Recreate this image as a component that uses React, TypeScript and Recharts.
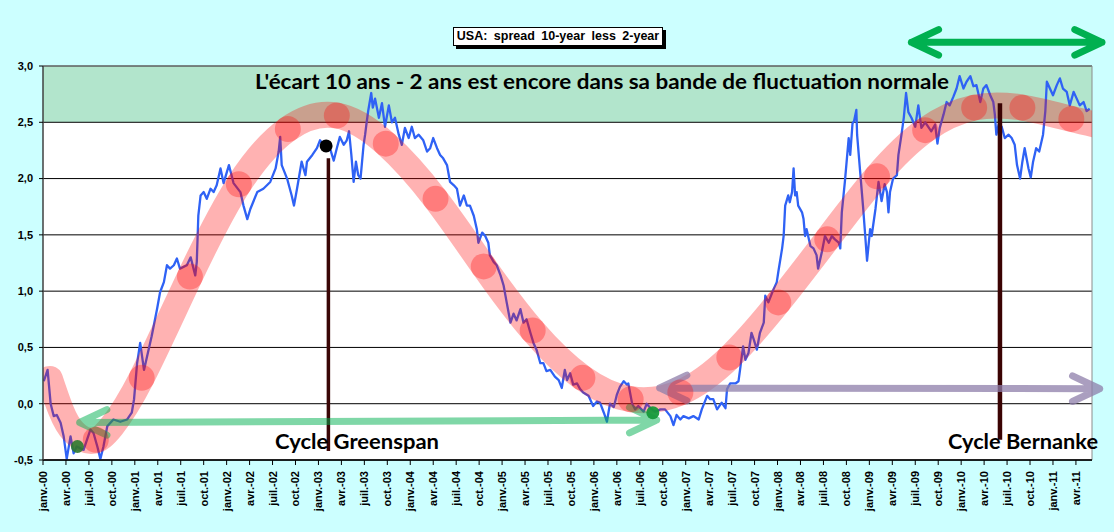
import React from 'react';
import { ComposedChart, Line, Scatter, XAxis, YAxis, CartesianGrid, ReferenceLine } from 'recharts';

// x values are months elapsed since 1 Jan 2000
const spreadMonth = [
  0.1, 0.6, 1.0, 1.4, 1.8, 2.3, 2.7, 3.1, 3.6, 4.0, 4.4, 5.3, 6.2, 6.6, 7.1, 7.5, 7.9, 8.4, 9.2, 10.1,
  11.0, 11.6, 11.9, 12.3, 12.7, 13.2, 13.6, 14.2, 14.9, 15.3, 15.8, 16.2, 16.6, 17.1, 17.5, 17.9, 18.8, 19.3, 19.9, 20.1,
  20.3, 20.6, 21.0, 21.4, 21.9, 22.3, 22.7, 23.2, 23.6, 24.3, 24.9, 25.8, 26.2, 26.7, 27.1, 28.0, 28.8, 29.7, 30.4, 30.8,
  31.0, 31.2, 31.9, 32.5, 32.8, 33.2, 33.8, 34.3, 34.5, 35.2, 35.8, 36.2, 36.9, 37.5, 38.0, 38.4, 38.8,
  39.3, 39.7, 40.0, 40.3, 40.6, 40.9, 41.2, 41.5, 41.7, 41.9, 42.1, 42.3, 42.5, 42.9, 43.1, 43.4, 43.9, 44.3, 44.7, 45.2,
  45.6, 46.0, 46.5, 46.9, 47.3, 47.8, 48.2, 48.6, 49.1, 49.7, 50.2, 50.6, 51.0, 51.5, 51.9, 52.3, 52.8, 53.2, 53.7, 54.1,
  54.5, 55.0, 55.4, 55.8, 56.3, 56.7, 56.9, 57.4, 57.8, 58.2, 58.4, 58.9, 59.3, 59.8, 60.2, 60.6, 61.1, 61.5, 61.9, 62.4,
  62.8, 63.2, 63.7, 64.1, 64.5, 65.0, 65.4, 65.8, 66.3, 66.9, 67.4, 67.8, 68.2, 68.5, 68.9, 69.3, 69.8, 70.2, 70.6, 71.3,
  71.9, 72.4, 72.8, 73.3, 73.7, 74.1, 74.6, 75.0, 75.4, 75.9,
  76.3, 76.5, 77.0, 77.4, 77.8, 78.5, 78.9, 79.4, 80.0, 80.7, 81.3, 82.0, 82.4, 82.8, 83.3, 83.7, 84.4, 85.0, 85.7, 86.1,
  86.8, 87.2, 87.6, 88.1, 88.7, 89.2, 89.4, 89.8, 90.5, 90.9, 91.1, 91.5, 91.8, 92.2, 92.6, 92.9, 93.3, 93.7, 94.2, 94.4,
  94.8, 95.5, 95.9, 96.1, 96.6, 96.8, 97.0, 97.4, 97.6, 97.9, 98.1, 98.3, 98.5, 98.7, 99.2, 99.4, 99.6, 99.8, 100.3, 100.7,
  101.1, 101.3, 101.8, 102.2, 102.7, 103.1, 103.5, 104.0, 104.2, 104.4, 104.8, 105.3, 105.5, 105.8, 106.0, 106.3, 106.4, 106.8, 107.2, 107.4,
  107.7, 108.1, 108.3, 108.8, 109.2,
  109.6, 110.0, 110.3, 110.5, 110.7, 111.1, 111.6, 111.8, 112.2, 112.5, 112.8, 113.1, 113.5, 114.0, 114.4, 114.8, 115.3, 115.7, 116.1, 116.6,
  116.9, 117.2, 117.7, 118.1, 118.5, 119.0, 119.4, 119.8, 120.3, 120.7, 121.2, 121.6, 122.0, 122.5, 122.9, 123.3, 123.8, 124.2, 124.4, 124.6,
  124.9, 125.3, 125.7, 126.2, 126.6, 127.0, 127.3, 127.7, 128.0, 128.3, 128.8, 129.1, 129.4, 129.8, 130.2, 130.5, 130.7, 131.0, 131.2, 131.6,
  132.0, 132.5, 132.9, 133.3, 133.8, 134.2, 134.7, 135.1, 135.5, 136.0, 136.4, 136.8,
];
const spreadValue = [
  0.20, 0.30, 0.00, -0.11, -0.10, -0.17, -0.29, -0.49, -0.29, -0.44, -0.38, -0.41, -0.23, -0.26, -0.38, -0.49, -0.38, -0.20, -0.14, -0.16,
  -0.14, -0.08, 0.04, 0.36, 0.54, 0.30, 0.42, 0.60, 0.84, 0.99, 1.08, 1.23, 1.20, 1.23, 1.29, 1.20, 1.23, 1.30, 1.14, 1.26,
  1.67, 1.85, 1.88, 1.82, 1.91, 1.88, 1.94, 2.09, 1.96, 2.12, 1.96, 1.88, 1.76, 1.64, 1.73, 1.88, 1.91, 1.97, 2.09, 2.24,
  2.37, 2.12, 2.00, 1.85, 1.76, 1.91, 2.15, 2.03, 2.15, 2.21, 2.27, 2.34, 2.28, 2.27, 2.16, 2.27, 2.37,
  2.30, 2.34, 2.42, 2.21, 1.97, 2.15, 2.03, 2.00, 2.15, 2.30, 2.39, 2.50, 2.60, 2.76, 2.63, 2.71, 2.54, 2.67, 2.46, 2.65,
  2.50, 2.54, 2.39, 2.30, 2.45, 2.36, 2.46, 2.36, 2.39, 2.34, 2.24, 2.27, 2.36, 2.27, 2.21, 2.18, 2.12, 1.97, 1.94, 1.91,
  1.76, 1.85, 1.76, 1.76, 1.67, 1.55, 1.43, 1.52, 1.49, 1.43, 1.32, 1.26, 1.23, 1.14, 1.05, 0.90, 0.72, 0.80, 0.74, 0.84,
  0.72, 0.75, 0.63, 0.54, 0.48, 0.36, 0.36, 0.29, 0.30, 0.24, 0.21, 0.14, 0.30, 0.21, 0.27, 0.17, 0.18, 0.13, 0.10, 0.07,
  -0.02, 0.02, 0.01, -0.08, -0.16, 0.00, -0.03, 0.08, 0.15, 0.20,
  0.17, 0.18, 0.00, -0.05, -0.02, -0.07, 0.00, -0.04, -0.07, -0.05, -0.05, -0.11, -0.19, -0.10, -0.14, -0.11, -0.13, -0.11, -0.14, -0.05,
  0.07, 0.04, 0.04, -0.05, 0.01, -0.04, 0.13, 0.18, 0.18, 0.20, 0.30, 0.51, 0.39, 0.45, 0.63, 0.57, 0.48, 0.63, 0.72, 0.96,
  0.90, 1.02, 1.08, 1.17, 1.38, 1.49, 1.76, 1.85, 1.79, 1.88, 2.09, 1.85, 1.88, 1.76, 1.70, 1.64, 1.49, 1.55, 1.40, 1.38,
  1.32, 1.20, 1.35, 1.49, 1.43, 1.49, 1.46, 1.43, 1.38, 1.70, 1.97, 2.36, 2.21, 2.49, 2.51, 2.61, 2.39, 2.06, 1.73, 1.55,
  1.27, 1.55, 1.49, 1.73, 1.97,
  1.80, 1.95, 1.88, 1.70, 1.88, 2.00, 2.03, 2.21, 2.39, 2.54, 2.76, 2.59, 2.54, 2.46, 2.65, 2.45, 2.50, 2.46, 2.42, 2.48,
  2.31, 2.45, 2.57, 2.68, 2.65, 2.73, 2.80, 2.91, 2.80, 2.86, 2.91, 2.82, 2.83, 2.68, 2.80, 2.83, 2.74, 2.68, 2.57, 2.39,
  2.48, 2.46, 2.36, 2.39, 2.36, 2.30, 2.12, 2.00, 2.15, 2.27, 2.09, 2.01, 2.15, 2.27, 2.24, 2.33, 2.39, 2.60, 2.86, 2.80,
  2.74, 2.83, 2.89, 2.80, 2.77, 2.65, 2.77, 2.71, 2.65, 2.68, 2.60, 2.62,
];

// hand-drawn cycle band and its markers
const cycleMonth = [0.9, 2.3, 4.0, 6.5, 9.0, 12.9, 19.2, 25.6, 32.0, 38.4, 44.8, 51.3, 57.6, 64.0, 70.5, 76.8, 83.3, 89.7, 96.1, 102.5, 109.0, 115.3, 121.7, 128.0, 134.4, 139.5];
const cycleValue = [0.22, -0.05, -0.25, -0.33, -0.2, 0.23, 1.13, 1.95, 2.44, 2.56, 2.31, 1.82, 1.22, 0.65, 0.23, 0.04, 0.10, 0.41, 0.90, 1.46, 2.02, 2.43, 2.63, 2.63, 2.53, 2.45];
const markerMonth = [6.9, 12.9, 19.2, 25.6, 32.0, 38.4, 44.8, 51.3, 57.6, 64.0, 70.5, 76.8, 83.3, 89.7, 96.1, 102.5, 109.0, 115.3, 121.7, 128.0, 134.4];
const markerValue = [-0.32, 0.23, 1.13, 1.95, 2.44, 2.56, 2.31, 1.82, 1.22, 0.65, 0.23, 0.04, 0.10, 0.41, 0.90, 1.46, 2.02, 2.43, 2.63, 2.63, 2.53];
const greenDotMonth = [4.5, 79.7];
const greenDotValue = [-0.38, -0.08];
const blackDotMonth = [37.0];
const blackDotValue = [2.29];

// annotations (data coordinates)
const greenspanLine = { month: 37.3, from: -0.42, to: 2.18 };
const bernankeLine = { month: 125.07, from: -0.32, to: 2.67 };
const lightArrow = [{ t: 4.8, v: -0.167 }, { t: 80.2, v: -0.145 }];
const greyArrow = [{ t: 80.6, v: 0.14 }, { t: 138.1, v: 0.133 }];
const topArrow = [{ t: 113.5, v: 3.21 }, { t: 138.4, v: 3.21 }];

const quarterNames = ['janv.', 'avr.', 'juil.', 'oct.'];
const yearNames = ['00', '01', '02', '03', '04', '05', '06', '07', '08', '09', '10', '11'];
const yTicks = [-0.5, 0, 0.5, 1, 1.5, 2, 2.5, 3];
const X_MAX = 137.1;

const xTicks: number[] = [];
const xTickLabel: Record<number, string> = {};
yearNames.forEach((yy, yi) => {
  quarterNames.forEach((q, qi) => {
    const m = yi * 12 + qi * 3;
    if (m <= 135) {
      xTicks.push(m);
      xTickLabel[m] = `${q}-${yy}`;
    }
  });
});

const zip = (ts: number[], vs: number[]) => ts.map((t, i) => ({ t, v: vs[i] }));
const spreadData = zip(spreadMonth, spreadValue);
const cycleData = zip(cycleMonth, cycleValue);
const markerData = zip(markerMonth, markerValue);
const greenDot1 = zip(greenDotMonth.slice(0, 1), greenDotValue.slice(0, 1));
const greenDot2 = zip(greenDotMonth.slice(1), greenDotValue.slice(1));
const blackDotData = zip(blackDotMonth, blackDotValue);

const AXIS_FONT = '"Liberation Sans", Arial, sans-serif';
const TEXT_FONT = 'Lato, "Open Sans", sans-serif';

const XTick = (props: any) => {
  const { x, y, payload } = props;
  return (
    <text
      x={x + 4}
      y={y}
      transform={`rotate(-90, ${x + 4}, ${y})`}
      textAnchor="end"
      fontFamily={AXIS_FONT}
      fontWeight="bold"
      fontSize={11}
      fill="#000"
    >
      {xTickLabel[payload.value]}
    </text>
  );
};

const arrowShape = (p: any) => {
  const { x1, y1, x2, y2, stroke, strokeWidth, strokeOpacity } = p;
  const ang = Math.atan2(y2 - y1, x2 - x1);
  const L = 30;
  const A = 0.44;
  const barb = (x: number, y: number, a: number) =>
    `M${x + L * Math.cos(a + A)},${y + L * Math.sin(a + A)} L${x},${y} L${x + L * Math.cos(a - A)},${y + L * Math.sin(a - A)}`;
  const d = `M${x1},${y1} L${x2},${y2} ${barb(x1, y1, ang)} ${barb(x2, y2, ang + Math.PI)}`;
  return (
    <path
      d={d}
      fill="none"
      stroke={stroke}
      strokeWidth={strokeWidth}
      strokeOpacity={strokeOpacity}
      strokeLinecap="round"
      strokeLinejoin="round"
    />
  );
};

const dot = (r: number, fill: string, opacity: number) => (p: any) =>
  <circle cx={p.cx} cy={p.cy} r={r} fill={fill} fillOpacity={opacity} />;

export default function App() {
  return (
    <div style={{ position: 'relative', width: 1114, height: 532, background: '#CCFFFF', overflow: 'hidden' }}>
      <style>{'body{margin:0;background:#CCFFFF}'}</style>
      <ComposedChart width={1114} height={532} margin={{ top: 66, right: 22, bottom: 0, left: 0 }}>
        <CartesianGrid
          vertical={false}
          stroke="#000"
          strokeOpacity={1}
          horizontalFill={['#B2E5CC', '#ffffff', '#ffffff', '#ffffff', '#ffffff', '#ffffff', '#ffffff', '#ffffff', '#ffffff']}
          fillOpacity={1}
        />
        <XAxis
          dataKey="t"
          type="number"
          domain={[0, X_MAX]}
          allowDataOverflow
          ticks={xTicks}
          interval={0}
          tick={<XTick />}
          tickSize={5}
          tickMargin={6}
          height={72}
          axisLine={{ stroke: '#000', strokeWidth: 1.5 }}
          tickLine={{ stroke: '#000' }}
        />
        <YAxis
          dataKey="v"
          type="number"
          domain={[-0.5, 3]}
          ticks={yTicks}
          interval={0}
          width={43}
          tickSize={4}
          tickMargin={6}
          tickFormatter={(v: number) => v.toFixed(1).replace('.', ',')}
          tick={{ fontFamily: AXIS_FONT, fontWeight: 'bold', fontSize: 11, fill: '#000' }}
          axisLine={{ stroke: '#404040', strokeWidth: 1.5 }}
          tickLine={{ stroke: '#000' }}
        />
        <ReferenceLine y={3} stroke="#8c8c8c" strokeWidth={1} />
        <ReferenceLine x={X_MAX} stroke="#8c8c8c" strokeWidth={1} />
        <Line
          data={spreadData}
          dataKey="v"
          type="linear"
          stroke="#2F62F5"
          strokeWidth={2.3}
          strokeLinejoin="round"
          dot={false}
          activeDot={false}
          isAnimationActive={false}
        />
        <Line
          data={cycleData}
          dataKey="v"
          type="natural"
          stroke="#FF0000"
          strokeOpacity={0.3}
          strokeWidth={26}
          strokeLinecap="round"
          dot={false}
          activeDot={false}
          isAnimationActive={false}
        />
        <ReferenceLine
          segment={[{ x: greenspanLine.month, y: greenspanLine.from }, { x: greenspanLine.month, y: greenspanLine.to }]}
          stroke="#3A0606"
          strokeWidth={3.5}
          ifOverflow="visible"
        />
        <ReferenceLine
          segment={[{ x: bernankeLine.month, y: bernankeLine.from }, { x: bernankeLine.month, y: bernankeLine.to }]}
          stroke="#3A0303"
          strokeWidth={4.5}
          ifOverflow="visible"
        />
        <ReferenceLine
          segment={[{ x: lightArrow[0].t, y: lightArrow[0].v }, { x: lightArrow[1].t, y: lightArrow[1].v }]}
          stroke="#00B050"
          strokeOpacity={0.5}
          strokeWidth={7}
          ifOverflow="visible"
          shape={arrowShape}
        />
        <ReferenceLine
          segment={[{ x: greyArrow[0].t, y: greyArrow[0].v }, { x: greyArrow[1].t, y: greyArrow[1].v }]}
          stroke="#8E7EAA"
          strokeOpacity={0.75}
          strokeWidth={7}
          ifOverflow="visible"
          shape={arrowShape}
        />
        <ReferenceLine
          segment={[{ x: topArrow[0].t, y: topArrow[0].v }, { x: topArrow[1].t, y: topArrow[1].v }]}
          stroke="#00B050"
          strokeOpacity={1}
          strokeWidth={7}
          ifOverflow="visible"
          shape={arrowShape}
        />
        <Scatter data={markerData} dataKey="v" shape={dot(13, '#FF0000', 0.3)} isAnimationActive={false} />
        <Scatter data={greenDot1} dataKey="v" shape={dot(6.5, '#2E7A2E', 0.9)} isAnimationActive={false} />
        <Scatter data={greenDot2} dataKey="v" shape={dot(6.5, '#16993A', 0.95)} isAnimationActive={false} />
        <Scatter data={blackDotData} dataKey="v" shape={dot(6.5, '#000000', 1)} isAnimationActive={false} />
      </ComposedChart>

      <svg
        width={1114}
        height={532}
        style={{ position: 'absolute', left: 0, top: 0, pointerEvents: 'none' }}
      >
        <text x={602} y={89} textAnchor="middle" fontFamily={TEXT_FONT} fontWeight="bold" fontSize={21}
          fill="#000" textLength={694} lengthAdjust="spacingAndGlyphs">
          L'écart 10 ans - 2 ans est encore dans sa bande de fluctuation normale
        </text>
        <text x={275} y={449} fontFamily={TEXT_FONT} fontWeight="bold" fontSize={21}
          fill="#000" textLength={164} lengthAdjust="spacingAndGlyphs">
          Cycle Greenspan
        </text>
        <text x={948} y={449} fontFamily={TEXT_FONT} fontWeight="bold" fontSize={21}
          fill="#000" textLength={150} lengthAdjust="spacingAndGlyphs">
          Cycle Bernanke
        </text>
      </svg>

      <div
        style={{
          position: 'absolute', left: 453, top: 27, width: 210, height: 19, boxSizing: 'border-box',
          border: '1px solid #000', background: '#fff', boxShadow: '3px 3px 0 #000',
          fontFamily: AXIS_FONT, fontWeight: 'bold', fontSize: 12.5, lineHeight: '17px',
          textAlign: 'center', wordSpacing: 3, whiteSpace: 'nowrap', color: '#000',
        }}
      >
        USA: spread 10-year less 2-year
      </div>
    </div>
  );
}
